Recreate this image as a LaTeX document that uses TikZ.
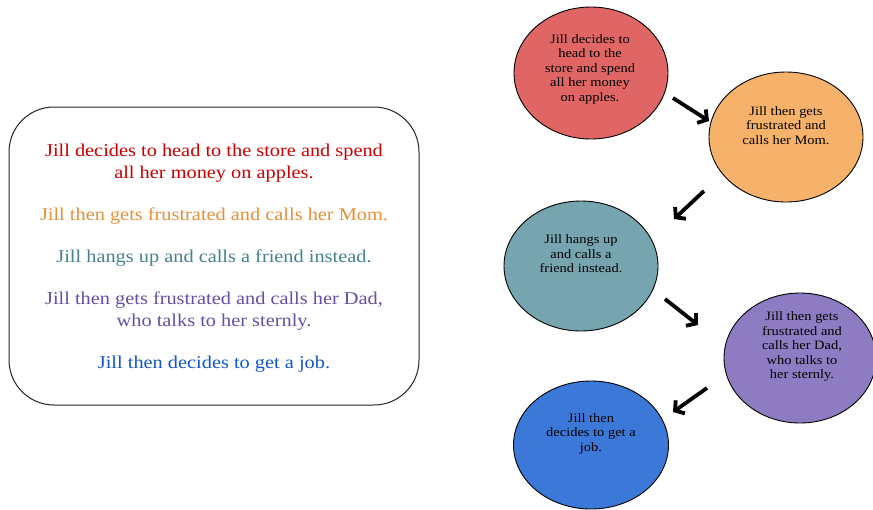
\documentclass[tikz,border=0pt]{standalone}
\usepackage{fontspec}
\setmainfont{Liberation Serif}[FakeStretch=1.13]
\usetikzlibrary{shapes.geometric,arrows.meta}
\definecolor{redfill}{HTML}{E06666}
\definecolor{orangefill}{HTML}{F6B26B}
\definecolor{tealfill}{HTML}{76A5AF}
\definecolor{purplefill}{HTML}{8E7CC3}
\definecolor{bluefill}{HTML}{3C78D8}
\definecolor{redtxt}{HTML}{CC0000}
\definecolor{orangetxt}{HTML}{E69138}
\definecolor{tealtxt}{HTML}{45818E}
\definecolor{purpletxt}{HTML}{674EA7}
\definecolor{bluetxt}{HTML}{1155CC}
\begin{document}
\begin{tikzpicture}[x=1pt,y=-1pt,
  bubble/.style={ellipse,draw=black,line width=0.9pt,inner sep=0pt},
  btxt/.style={align=center,font=\fontsize{12.8}{14.5}\selectfont,text=black,inner sep=0pt},
  story/.style={align=center,font=\fontsize{18}{22}\selectfont,inner sep=0pt},
  flow/.style={line width=3.8pt,-{Straight Barb[length=6.5pt,width=16pt]}}]
\useasboundingbox (0,0) rectangle (873,509);
\fill[white] (0,0) rectangle (873,509);
% left box
\node[draw=black!85, rounded corners=45pt, line width=1pt, minimum width=410pt, minimum height=298pt] (box) at (214,256) {};
\node[story,text=redtxt] (t1) at (214,163) {Jill decides to head to the store and spend\\all her money on apples.};
\node[story,text=orangetxt] (t2) at (214,216) {Jill then gets frustrated and calls her Mom.};
\node[story,text=tealtxt] (t3) at (214,258) {Jill hangs up and calls a friend instead.};
\node[story,text=purpletxt] (t4) at (214,311.5) {Jill then gets frustrated and calls her Dad,\\who talks to her sternly.};
\node[story,text=bluetxt] (t5) at (214,364) {Jill then decides to get a job.};
% ellipses
\node[bubble,fill=redfill,minimum width=154pt,minimum height=132pt] (e1) at (591,73) {};
\node[bubble,fill=orangefill,minimum width=154pt,minimum height=130pt] (e2) at (786,137) {};
\node[bubble,fill=tealfill,minimum width=154pt,minimum height=130pt] (e3) at (581,266) {};
\node[bubble,fill=purplefill,minimum width=152pt,minimum height=130pt] (e4) at (800,358) {};
\node[bubble,fill=bluefill,minimum width=155pt,minimum height=128pt] (e5) at (591,445) {};
\node[btxt] (l1) at (590,69) {Jill decides to\\head to the\\store and spend\\all her money\\on apples.};
\node[btxt] (l2) at (786,125.5) {Jill then gets\\frustrated and\\calls her Mom.};
\node[btxt] (l3) at (581,254) {Jill hangs up\\and calls a\\friend instead.};
\node[btxt] (l4) at (802,346.5) {Jill then gets\\frustrated and\\calls her Dad,\\who talks to\\her sternly.};
\node[btxt] (l5) at (591,433.5) {Jill then\\decides to get a\\job.};
% arrows
\coordinate (a1s) at (673,98);  \coordinate (a1e) at (709,121);
\coordinate (a2s) at (704,191); \coordinate (a2e) at (674,219);
\coordinate (a3s) at (665,299); \coordinate (a3e) at (698,325);
\coordinate (a4s) at (707,388); \coordinate (a4e) at (673,412);
\draw[flow] (a1s) -- (a1e);
\draw[flow] (a2s) -- (a2e);
\draw[flow] (a3s) -- (a3e);
\draw[flow] (a4s) -- (a4e);
\end{tikzpicture}
\end{document}
